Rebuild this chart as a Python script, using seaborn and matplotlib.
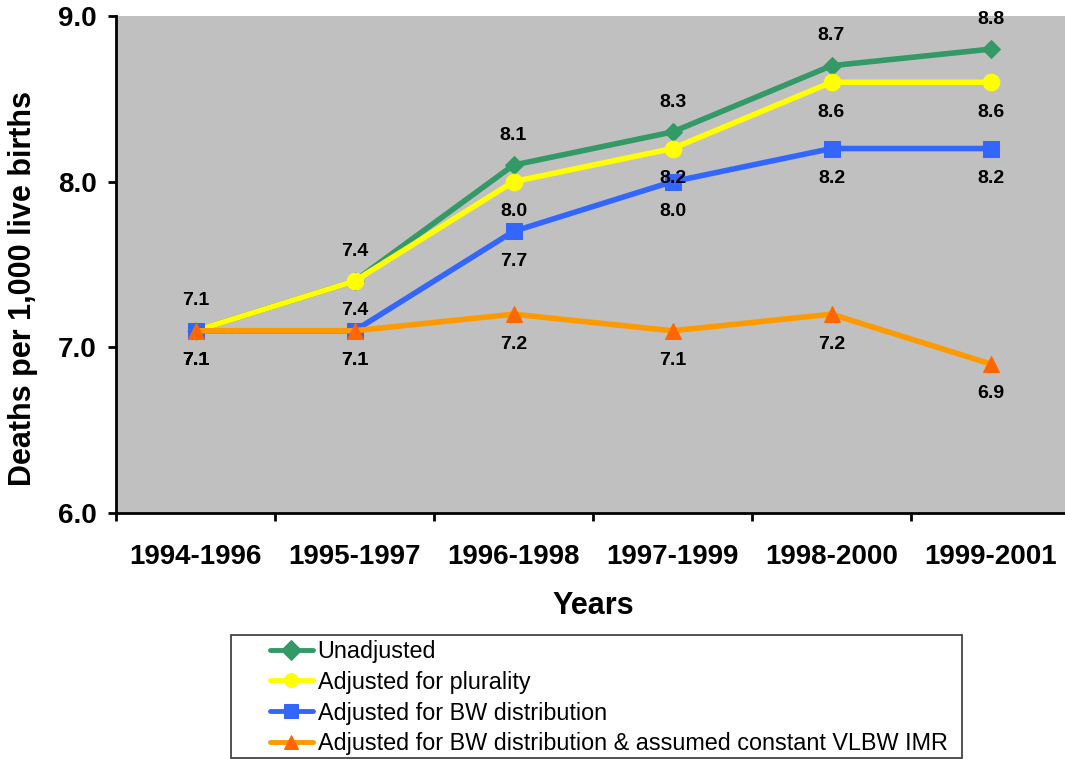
import numpy as np
import pandas as pd
import matplotlib
matplotlib.use("Agg")
import matplotlib.pyplot as plt
from matplotlib.patches import Rectangle
from matplotlib.ticker import FixedLocator, NullFormatter
import seaborn as sns

periods = ["1994-1996", "1995-1997", "1996-1998", "1997-1999", "1998-2000", "1999-2001"]
unadjusted = [7.1, 7.4, 8.1, 8.3, 8.7, 8.8]
plurality = [7.1, 7.4, 8.0, 8.2, 8.6, 8.6]
bw_dist = [7.1, 7.1, 7.7, 8.0, 8.2, 8.2]
bw_vlbw = [7.1, 7.1, 7.2, 7.1, 7.2, 6.9]

series_names = [
    "Unadjusted",
    "Adjusted for plurality",
    "Adjusted for BW distribution",
    "Adjusted for BW distribution & assumed constant VLBW IMR",
]

sns.set_theme(style="white")
plt.rcParams["font.family"] = ["Liberation Sans", "DejaVu Sans"]
plt.rcParams.update({"text.color": "black", "axes.labelcolor": "black",
                     "xtick.color": "black", "ytick.color": "black"})

W, H = 1065, 759
fig = plt.figure(figsize=(W / 100, H / 100), dpi=100)
ax = fig.add_axes([116 / W, 1 - 513 / H, 954 / W, 497 / H])
ax.set_facecolor("#C0C0C0")

styles = [
    # (values, line colour, marker, marker colour, marker size, label above?)
    (unadjusted, "#339966", "D", "#339966", 9, True),
    (plurality, "#FFFF00", "o", "#FFFF00", 12, False),
    (bw_dist, "#3366FF", "s", "#3366FF", 11, False),
    (bw_vlbw, "#FF9900", "^", "#FF6600", 12, False),
]

xpos = np.arange(len(periods))
for name, (vals, lc, mk, mc, ms, above) in zip(series_names, styles):
    df = pd.DataFrame({"x": xpos, "y": vals})
    sns.lineplot(data=df, x="x", y="y", ax=ax, color=lc, linewidth=4,
                 marker=mk, markersize=ms, markerfacecolor=mc,
                 markeredgecolor=mc, label=name)
    for xi, v in zip(xpos, vals):
        ax.annotate(f"{v:.1f}", (xi, v), xytext=(0, 21.5 if above else -21.5),
                    textcoords="offset points", ha="center", va="center",
                    fontsize=14, fontweight="bold", color="black")

ax.set_xlim(-0.5, 5.5)
ax.set_ylim(6.0, 9.0)
yt = [6.0, 7.0, 8.0, 9.0]
ax.set_yticks(yt)
ax.set_yticklabels([f"{t:.1f}" for t in yt], fontsize=20, fontweight="bold")
ax.set_xticks(xpos)
ax.set_xticklabels(periods, fontsize=20, fontweight="bold")
ax.xaxis.set_minor_locator(FixedLocator(np.arange(-0.5, 6.0, 1.0)))
ax.xaxis.set_minor_formatter(NullFormatter())
ax.tick_params(axis="x", which="major", length=0, pad=22)
ax.tick_params(axis="x", which="minor", length=6, width=2, direction="out",
               bottom=True, color="black")
ax.tick_params(axis="y", which="major", length=6, width=2, direction="out",
               left=True, pad=8)

for side in ["top", "right"]:
    ax.spines[side].set_visible(False)
for side in ["left", "bottom"]:
    ax.spines[side].set_visible(True)
    ax.spines[side].set_color("black")
    ax.spines[side].set_linewidth(2)

ax.set_xlabel("Years", fontsize=22, fontweight="bold")
ax.xaxis.set_label_coords((593 - 116) / 954, (513 - 591) / 497)
ax.set_ylabel("Deaths per 1,000 live births", fontsize=22, fontweight="bold")
ax.yaxis.set_label_coords((38 - 116) / 954, (513 - 289) / 497)

# Legend: framed box below the plot
handles, labels = ax.get_legend_handles_labels()
ax.get_legend().remove()
fig.patches.append(Rectangle((231 / W, 1 - 758 / H), (962 - 231) / W,
                             (758 - 635) / H, transform=fig.transFigure,
                             facecolor="white", edgecolor="#444444",
                             linewidth=1.3, zorder=0))
leg = fig.legend(handles, labels, loc="upper left",
                 bbox_to_anchor=(265 / W, 1 - 635 / H),
                 frameon=False, fontsize=16.8,
                 handlelength=1.85, handletextpad=0.2, labelspacing=0.34,
                 borderpad=0.2, borderaxespad=0)
for ln in leg.get_lines():
    ln.set_linewidth(3.5)
    ln.set_markersize(10)

fig.savefig("out.png", dpi=100)
